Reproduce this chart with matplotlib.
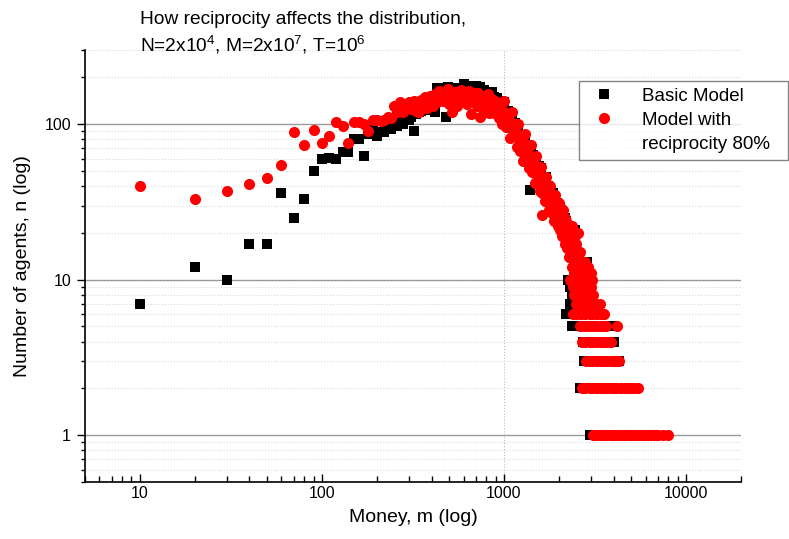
import matplotlib.pyplot as plt
from matplotlib.lines import Line2D
from matplotlib.ticker import LogLocator, FuncFormatter, NullFormatter

plt.rcParams['font.family'] = ['Liberation Sans', 'DejaVu Sans']
plt.rcParams['mathtext.default'] = 'regular'

# Basic Model: money bins (step 10 / 20) and number of agents
basic_m = [10, 20, 30, 40, 50, 60, 70, 80, 90, 100, 110, 120, 130, 140, 150, 160, 170, 180, 190, 200,
           210, 220, 230, 240, 250, 260, 270, 280, 290, 300, 310, 320, 330, 340, 350, 360, 370, 380, 390, 400,
           410, 420, 430, 440, 450, 460, 470, 480, 490,
           500, 520, 540, 560, 580, 600, 620, 640, 660, 680, 700, 720, 740, 760, 780, 800, 820, 840, 860, 880,
           900, 920, 940, 960, 980]
basic_n = [7, 12, 10, 17, 17, 36, 25, 33, 50, 60, 61, 60, 66, 66, 80, 80, 62, 86, 93, 84,
           89, 89, 93, 93, 100, 97, 104, 100, 107, 107, 112, 90, 116, 119, 122, 124, 124, 128, 126, 130,
           135, 119, 170, 160, 165, 170, 163, 112, 173,
           160, 170, 165, 172, 168, 181, 175, 165, 170, 160, 175, 168, 173, 160, 165, 155, 158, 150, 161, 150,
           145, 148, 140, 142, 138]

# Basic Model, falling branch
basic_fall_m = [1000, 1025, 1050, 1075, 1100, 1125, 1150, 1175, 1200, 1225, 1250, 1275, 1300, 1325, 1350, 1375,
                1390, 1400, 1425, 1450, 1475, 1500, 1525, 1550, 1575, 1600, 1625, 1650, 1675, 1700, 1725, 1750,
                1775, 1800, 1825, 1850, 1875, 1900, 1925, 1950, 1975, 2000, 2025, 2050, 2075, 2100, 2125, 2150,
                2175, 2200, 2250, 2300, 2350, 2400, 2450, 2500, 2550, 2600, 2700, 2850]
basic_fall_n = [138, 112, 122, 98, 116, 94, 102, 84, 96, 78, 85, 70, 84, 68, 74, 62,
                38, 71, 56, 63, 50, 61, 49, 54, 44, 52, 42, 46, 38, 46, 37, 40,
                33, 39, 31, 36, 29, 34, 28, 31, 26, 30, 24, 28, 22, 27, 22, 25,
                20, 24, 21, 20, 17, 16, 21, 14, 13, 12, 12, 13]

# Basic Model, tail rows (same count, many money values)
basic_tail_n = [10, 9, 8, 7, 6, 5, 4, 3, 2, 1]
basic_tail_m = [[2250, 2400, 2550, 2700, 2850, 2950],
                [2300, 2450, 2600, 2750, 2900],
                [2350, 2500, 2650, 2800, 2950],
                [2300, 2450, 2600, 2750, 2900, 3050],
                [2200, 2350, 2500, 2650, 2800, 2950],
                [2360, 2500, 2650, 2800, 2950, 3100, 3900],
                [2700, 2850, 3000, 3150, 3300, 4000],
                [2750, 2900, 3050, 3200, 3350, 3500, 4300],
                [2600, 2750, 2900, 3050, 3200, 3400, 3600, 3800],
                [2950, 3100, 3250, 3400, 3600, 3800, 4000]]

# Model with reciprocity 80%
recip_m = [10, 20, 30, 40, 50, 60, 70, 80, 90, 100, 110, 120, 130, 140, 150, 160, 170, 180, 190, 200,
           210, 220, 230, 240, 250, 260, 270, 280, 290, 300, 310, 320, 330, 340, 350, 360, 370, 380, 390, 400,
           410, 420, 430, 440, 450, 460, 470, 480, 490,
           500, 520, 540, 560, 580, 600, 620, 640, 660, 680, 700, 720, 740, 760, 780, 800, 820, 840, 860, 880,
           900, 920, 940, 960, 980]
recip_n = [40, 33, 37, 41, 45, 55, 89, 73, 92, 76, 84, 103, 97, 76, 104, 103, 100, 90, 106, 107,
           105, 107, 112, 110, 130, 120, 138, 119, 128, 138, 125, 140, 122, 119, 144, 135, 150, 128, 151, 140,
           130, 156, 138, 163, 145, 140, 158, 150, 168,
           135, 119, 160, 145, 165, 140, 155, 163, 116, 150, 140, 158, 111, 138, 150, 121, 156, 128, 145, 118,
           135, 128, 110, 125, 100]

# in-between money values of the dense part of the hump
recip_mid_m = [315, 335, 355, 375, 395, 415, 435, 455, 475, 495,
               510, 530, 550, 570, 590, 610, 630, 650, 670, 690, 710, 730, 750, 770, 790, 810, 830, 850, 870,
               890, 910, 930, 950, 970, 990]
recip_mid_n = [132, 138, 128, 140, 134, 145, 150, 155, 142, 148,
               150, 142, 130, 155, 148, 160, 135, 150, 142, 158, 130, 148, 140, 128, 145, 138, 118, 135, 128,
               140, 120, 130, 118, 112, 122]

recip_fall_m = [1000, 1025, 1050, 1075, 1100, 1125, 1150, 1175, 1200, 1225, 1250, 1275, 1300, 1325, 1350, 1375,
                1400, 1425, 1450, 1475, 1500, 1525, 1550, 1575, 1600, 1610, 1625, 1650, 1675, 1700, 1725, 1750,
                1775, 1800, 1825, 1850, 1875, 1900, 1925, 1950, 1975, 2000, 2025, 2050, 2075, 2100, 2125, 2150,
                2175, 2200, 2225, 2250, 2275, 2300, 2325, 2350, 2375, 2400, 2425, 2450, 2475, 2500, 2525, 2550,
                2575, 2600, 2700, 2800, 2900, 3000]
recip_fall_n = [142, 96, 117, 82, 120, 85, 101, 71, 100, 67, 82, 58, 87, 61, 74, 52,
                73, 49, 60, 42, 62, 44, 53, 37, 53, 26, 36, 44, 32, 46, 33, 40,
                28, 40, 27, 33, 24, 35, 25, 30, 22, 31, 21, 26, 19, 28, 20, 25,
                17, 24, 16, 20, 14, 21, 15, 17, 12, 17, 11, 14, 10, 15, 10, 12,
                9, 12, 12, 11, 12, 11]

# falling branch, points between the ones above and on its right edge
recip_fall2_m = [1012, 1037, 1062, 1087, 1112, 1137, 1162, 1187, 1212, 1237, 1262, 1287, 1312, 1337, 1362, 1387,
                 1412, 1437, 1462, 1487, 1512, 1537, 1562, 1587, 1612, 1637, 1662, 1687, 1712, 1737, 1762, 1787,
                 1812, 1837, 1862, 1887, 1912, 1937, 1962, 1987, 2012, 2037, 2062, 2087, 2112, 2137, 2162, 2187,
                 2212, 2237, 2262, 2287, 2312, 2337, 2362, 2387, 2412, 2437, 2462, 2487, 2512, 2537, 2562, 2587,
                 2350, 2450, 2500, 2550, 2600, 2650, 2750, 2800]
recip_fall2_n = [116, 110, 106, 100, 96, 92, 88, 84, 81, 77, 74, 72, 69, 67, 64, 62,
                 59, 57, 55, 52, 50, 48, 46, 45, 43, 42, 40, 39, 38, 36, 35, 34,
                 33, 32, 31, 30, 29, 28, 27, 26, 26, 25, 24, 24, 23, 22, 22, 21,
                 20, 19, 18, 18, 17, 16, 15, 15, 14, 13, 13, 12, 12, 11, 11, 10,
                 22, 19, 17, 20, 15, 13, 12, 13]

recip_tail_n = [10, 9, 8, 7, 6, 5, 4, 3, 2, 1]
recip_tail_m = [[2300, 2450, 2600, 2750, 2850, 2950, 3050],
                [2380, 2500, 2650, 2800, 2900, 3000],
                [2420, 2550, 2700, 2850, 2950, 3100],
                [2500, 2620, 2760, 2900, 3050, 3200, 3350],
                [2400, 2520, 2650, 2800, 2950, 3100, 3250, 3400, 3550],
                [2620, 2750, 2900, 3050, 3200, 3350, 3500, 3650, 4200],
                [2680, 2800, 2950, 3100, 3250, 3400, 3550, 3700, 3850],
                [2820, 2950, 3100, 3250, 3400, 3550, 3700, 3850, 4000, 4150, 4300],
                [2680, 2800, 2950, 3100, 3250, 3400, 3550, 3700, 3850, 4000, 4200, 4400, 4600,
                 4800, 5000, 5200, 5450],
                [3080, 3200, 3350, 3500, 3650, 3800, 3950, 4100, 4250, 4400, 4550, 4700, 4850,
                 5000, 5200, 5400, 5600, 5800, 6000, 6200, 6400, 6600, 6800, 7000, 7500, 8000]]


def collect(pairs, tail_n, tail_m):
    xs, ys = [], []
    for m, n in pairs:
        xs += list(m)
        ys += list(n)
    for cnt, row in zip(tail_n, tail_m):
        xs += row
        ys += [cnt] * len(row)
    return xs, ys


bx, by = collect([(basic_m, basic_n), (basic_fall_m, basic_fall_n)], basic_tail_n, basic_tail_m)
rx, ry = collect([(recip_m, recip_n), (recip_mid_m, recip_mid_n),
                  (recip_fall_m, recip_fall_n), (recip_fall2_m, recip_fall2_n)],
                 recip_tail_n, recip_tail_m)

fig = plt.figure(figsize=(7.89, 5.39), dpi=100)
ax = fig.add_axes([0.1077, 0.1058, 0.8313, 0.8014])

ax.plot(bx, by, 's', color='black', ms=6.5, mew=0, zorder=3)
ax.plot(rx, ry, 'o', color='#ff0000', ms=8, mew=0, zorder=4)

ax.set_xscale('log')
ax.set_yscale('log')
ax.set_xlim(5, 20000)
ax.set_ylim(0.5, 300)

# grid: solid at decades, dotted in between, one dotted line at 1000
ax.yaxis.set_minor_locator(LogLocator(base=10, subs=range(2, 10)))
ax.xaxis.set_minor_locator(LogLocator(base=10, subs=range(2, 10)))
ax.grid(True, axis='y', which='major', color='#999999', lw=1, ls='-', zorder=1)
ax.grid(True, axis='y', which='minor', color='#d8d8d8', lw=0.8, ls=':', zorder=1)
ax.axvline(1000, color='#bbbbbb', lw=0.8, ls=':', zorder=1)

fmt = FuncFormatter(lambda v, p: f'{v:g}')
ax.xaxis.set_major_formatter(fmt)
ax.yaxis.set_major_formatter(fmt)
ax.xaxis.set_minor_formatter(NullFormatter())
ax.yaxis.set_minor_formatter(NullFormatter())

ax.tick_params(axis='x', which='major', direction='in', length=6, width=1, pad=3, labelsize=11.5)
ax.tick_params(axis='x', which='minor', direction='in', length=4, width=1)
ax.tick_params(axis='y', which='major', direction='out', length=6, width=1, pad=4, labelsize=11.5)
ax.tick_params(axis='y', which='minor', direction='out', length=3, width=1)

for side in ['top', 'right']:
    ax.spines[side].set_visible(False)
for side in ['left', 'bottom']:
    ax.spines[side].set_linewidth(1.2)

ax.set_xlabel('Money, m (log)', fontsize=14, labelpad=6)
ax.set_ylabel('Number of agents, n (log)', fontsize=14, labelpad=10)

fig.text(140 / 789, 1 - 24 / 539, 'How reciprocity affects the distribution,', fontsize=13.8, va='baseline')
fig.text(140 / 789, 1 - 52 / 539, 'N=2x10$^4$, M=2x10$^7$, T=10$^6$', fontsize=13.8, va='baseline')

handles = [Line2D([], [], ls='none', marker='s', color='black', ms=6.5, mew=0),
           Line2D([], [], ls='none', marker='o', color='#ff0000', ms=8, mew=0),
           Line2D([], [], ls='none', marker='none')]
labels = ['Basic Model', 'Model with', 'reciprocity 80%']
leg = fig.legend(handles, labels, loc='upper left', mode='expand',
                 bbox_to_anchor=(579 / 789, 1 - 163 / 539, 209 / 789, 82 / 539),
                 fontsize=13.5, frameon=True, fancybox=False, borderpad=0.35,
                 labelspacing=0.38, handlelength=2.0, handletextpad=1.0, borderaxespad=0)
leg.get_frame().set_edgecolor('#666666')
leg.get_frame().set_linewidth(1)

fig.savefig('out.png', dpi=100)
